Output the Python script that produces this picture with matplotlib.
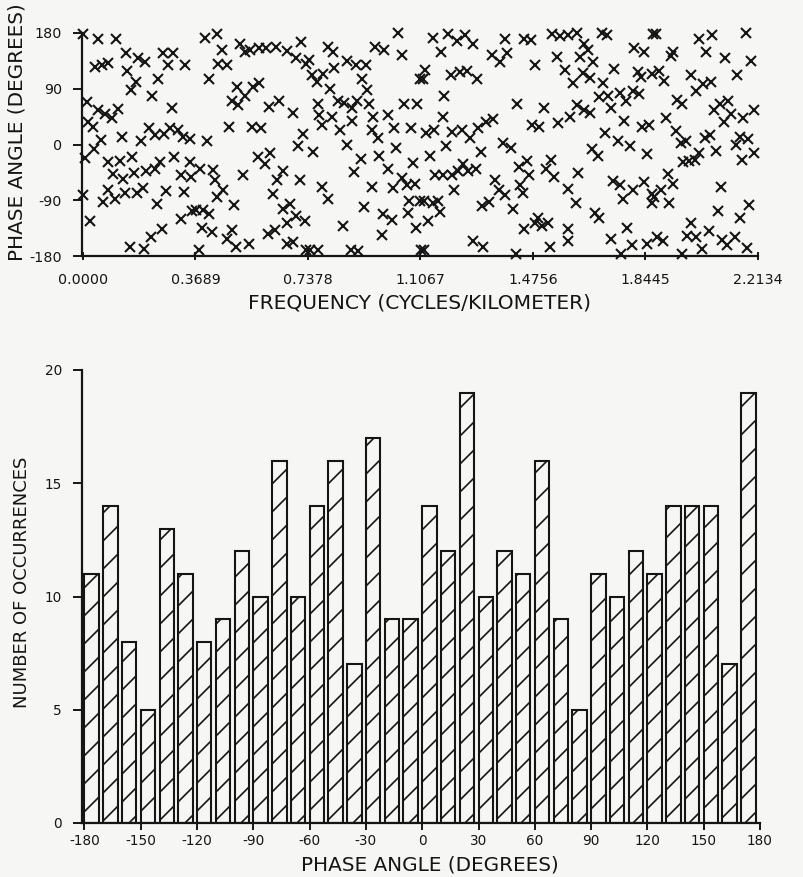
import numpy as np
import matplotlib.pyplot as plt

# phase spectrum: frequency (cycles/km) and phase angle (degrees)
freq = [
    0.000, 0.048, 0.110, 0.140, 0.180, 0.203, 0.262, 0.295, 0.279, 0.334,
    0.039, 0.061, 0.082, 0.143, 0.173, 0.157, 0.246, 0.225, 0.292, 0.012,
    0.049, 0.074, 0.095, 0.115, 0.016, 0.033, 0.059, 0.036, 0.007, 0.127,
    0.190, 0.216, 0.236, 0.266, 0.285, 0.311, 0.328, 0.351, 0.081, 0.121,
    0.161, 0.098, 0.131, 0.167, 0.206, 0.236, 0.252, 0.298, 0.351, 0.321,
    0.356, 0.082, 0.105, 0.138, 0.176, 0.197, 0.274, 0.331, 0.000, 0.066,
    0.242, 0.357, 0.023, 0.321, 0.259, 0.223, 0.154, 0.200,
    0.400, 0.439, 0.455, 0.443, 0.472, 0.413, 0.515, 0.531, 0.548, 0.577,
    0.600, 0.633, 0.669, 0.714, 0.698, 0.733, 0.504, 0.531, 0.557, 0.577,
    0.488, 0.508, 0.610, 0.643, 0.688, 0.479, 0.556, 0.583, 0.720, 0.705,
    0.406, 0.574, 0.597, 0.615, 0.525, 0.636, 0.656, 0.712, 0.384, 0.426,
    0.433, 0.459, 0.439, 0.622, 0.495, 0.371, 0.394, 0.413, 0.655, 0.679,
    0.668, 0.698, 0.728, 0.389, 0.422, 0.488, 0.471, 0.502, 0.544, 0.607,
    0.630, 0.668, 0.688, 0.380, 0.731,
    1.032, 0.803, 0.820, 0.957, 0.987, 1.046, 0.741, 0.750, 0.766, 0.787,
    0.823, 0.865, 0.897, 0.927, 0.915, 0.933, 0.810, 1.105, 0.770, 0.774,
    0.783, 0.816, 0.836, 0.856, 0.881, 0.900, 0.938, 0.882, 0.843, 0.951,
    0.947, 0.999, 1.020, 0.966, 1.053, 1.094, 1.076, 0.865, 0.754, 0.912,
    0.971, 1.025, 0.889, 1.000, 1.082, 1.045, 0.948, 1.017, 1.061, 1.089,
    0.784, 0.802, 0.921, 1.069, 1.105, 0.984, 1.013, 1.065, 0.853, 1.091,
    0.981, 0.744, 0.771, 0.879, 0.902, 1.108,
    1.147, 1.197, 1.226, 1.253, 1.278, 1.173, 1.384, 1.446, 1.468, 1.340,
    1.367, 1.390, 1.482, 1.121, 1.114, 1.206, 1.236, 1.259, 1.292, 1.184,
    1.422, 1.179, 1.125, 1.151, 1.209, 1.242, 1.269, 1.295, 1.321, 1.343,
    1.471, 1.190, 1.304, 1.376, 1.403, 1.138, 1.154, 1.179, 1.209, 1.231,
    1.246, 1.262, 1.289, 1.216, 1.351, 1.364, 1.384, 1.430, 1.456, 1.462,
    1.433, 1.442, 1.118, 1.147, 1.165, 1.171, 1.132, 1.307, 1.332, 1.411,
    1.446, 1.482, 1.278, 1.313, 1.118, 1.420,
    1.537, 1.564, 1.591, 1.619, 1.701, 1.717, 1.870, 1.644, 1.655, 1.553,
    1.630, 1.674, 1.808, 1.841, 1.742, 1.580, 1.608, 1.640, 1.662, 1.706,
    1.821, 1.830, 1.867, 1.692, 1.720, 1.761, 1.780, 1.804, 1.823, 1.733,
    1.512, 1.619, 1.597, 1.644, 1.662, 1.558, 1.495, 1.775, 1.832, 1.857,
    1.711, 1.753, 1.794, 1.668, 1.688, 1.851, 1.534, 1.517, 1.545, 1.622,
    1.589, 1.738, 1.761, 1.804, 1.841, 1.771, 1.865, 1.865, 1.616, 1.493,
    1.506, 1.526, 1.591, 1.679, 1.692, 1.784, 1.531, 1.589, 1.731, 1.764,
    1.801, 1.851,
    1.879, 2.021, 2.062, 2.174, 1.934, 1.927, 2.043, 2.105, 2.189, 1.889,
    1.905, 1.995, 2.033, 2.058, 2.010, 2.143, 1.947, 1.963, 2.069, 2.088,
    2.116, 2.124, 2.102, 2.164, 2.201, 1.912, 1.945, 1.960, 1.977, 2.039,
    2.056, 2.075, 2.141, 2.156, 2.181, 2.201, 2.160, 1.968, 1.987, 2.006,
    2.021, 1.919, 1.934, 1.894, 1.872, 1.922, 2.091, 2.083, 2.154, 2.185,
    1.995, 1.881, 1.903, 1.982, 2.010, 2.052, 2.097, 2.112, 2.138, 1.963,
    2.029, 2.176,
]
phase = [
    179, 170, 170, 148, 140, 133, 147, 147, 128, 128,
    125, 129, 131, 119, 101, 88, 105, 79, 59, 68,
    56, 50, 42, 58, 36, 28, 8, -7, -22, 12,
    5, 27, 15, 17, 27, 23, 12, 9, -29, -27,
    -20, -47, -56, -46, -43, -39, -29, -20, -29, -50,
    -52, -74, -88, -79, -79, -70, -75, -77, -81, -93,
    -96, -108, -124, -120, -136, -150, -165, -169,
    172, 179, 153, 130, 129, 106, 162, 149, 153, 155,
    155, 158, 151, 165, 139, 130, 93, 79, 93, 99,
    71, 63, 61, 70, 51, 28, 28, 27, 17, -2,
    6, -20, -31, -14, -49, -57, -43, -58, -39, -41,
    -57, -74, -85, -80, -97, -106, -106, -112, -104, -96,
    -126, -116, -123, -135, -142, -138, -152, -165, -160, -144,
    -138, -160, -158, -171, -170,
    180, 157, 149, 158, 152, 144, 137, 112, 101, 114,
    124, 135, 129, 129, 105, 88, 90, 105, 66, 47,
    32, 44, 71, 67, 59, 71, 66, 38, 23, 44,
    23, 47, 27, 11, 66, 66, 27, 0, -12, -23,
    -19, -5, -45, -39, -30, -54, -69, -70, -65, -64,
    -68, -88, -101, -92, -91, -113, -122, -111, -132, -134,
    -146, -170, -171, -170, -172, -170,
    172, 179, 167, 176, 162, 149, 171, 171, 168, 144,
    133, 147, 129, 121, 106, 113, 117, 119, 106, 78,
    65, 44, 18, 24, 20, 23, 11, 27, 36, 41,
    31, -3, -12, 2, -5, -19, -50, -50, -49, -43,
    -32, -43, -39, -74, -57, -74, -82, -36, -26, -50,
    -65, -79, -91, -95, -91, -109, -123, -99, -93, -104,
    -136, -126, -155, -165, -170, -176,
    179, 175, 176, 180, 180, 176, 178, 162, 152, 142,
    142, 133, 156, 149, 122, 120, 99, 115, 108, 99,
    117, 109, 114, 77, 79, 83, 71, 86, 81, 59,
    59, 63, 44, 56, 51, 34, 29, 38, 28, 31,
    18, 5, -3, -7, -18, -15, -25, -39, -52, -46,
    -72, -59, -66, -73, -61, -88, -80, -95, -95, -119,
    -131, -127, -136, -111, -119, -134, -165, -156, -153, -176,
    -163, -160,
    179, 171, 176, 180, 150, 143, 149, 140, 135, 119,
    103, 113, 97, 101, 87, 113, 72, 65, 55, 66,
    70, 49, 36, 43, 56, 42, 22, 2, 5, 11,
    16, -11, 0, 12, 9, -14, -25, -29, -26, -25,
    -14, -47, -63, -74, -85, -95, -68, -108, -119, -97,
    -127, -150, -156, -147, -150, -140, -154, -162, -149, -176,
    -169, -167,
]

# histogram of phase angles, 10 degree bins from -180
bin_start = np.arange(-180, 180, 10)
counts = [11, 14, 8, 5, 13, 11, 8, 9, 12, 10, 16, 10, 14, 16, 7, 17, 9, 9,
          14, 12, 19, 10, 12, 11, 16, 9, 5, 11, 10, 12, 11, 14, 14, 14, 7, 19]

freq_ticks = [0.0, 0.3689, 0.7378, 1.1067, 1.4756, 1.8445, 2.2134]
phase_ticks = [-180, -90, 0, 90, 180]
hist_xticks = np.arange(-180, 181, 30)
hist_yticks = [0, 5, 10, 15, 20]

# dpi 84 so that the single "/" hatch comes out with the spacing of the original
DPI = 84
k = 100.0 / DPI  # keep sizes as if drawn at 100 dpi

bg = "#f6f6f4"
ink = "#151515"
plt.rcParams["font.family"] = "DejaVu Sans"
plt.rcParams["axes.unicode_minus"] = False
plt.rcParams["hatch.linewidth"] = 1.2 * k
plt.rcParams["hatch.color"] = ink

fig = plt.figure(figsize=(803 / DPI, 877 / DPI), dpi=DPI, facecolor=bg)

# ---- top: phase vs frequency
ax1 = fig.add_axes([82 / 803, 1 - 256 / 877, 676 / 803, 223 / 877], facecolor=bg)
ax1.plot(freq, phase, linestyle="none", marker="x", color=ink,
         markersize=6.8 * k, markeredgewidth=1.5 * k, clip_on=False)
ax1.set_xlim(-0.003, 2.2134)
ax1.set_ylim(-180, 180)
ax1.set_xticks(freq_ticks)
ax1.set_xticklabels(["%.4f" % f for f in freq_ticks])
ax1.set_yticks(phase_ticks)
ax1.spines["top"].set_visible(False)
ax1.spines["right"].set_visible(False)
for s in ["left", "bottom"]:
    ax1.spines[s].set_linewidth(1.6 * k)
    ax1.spines[s].set_color(ink)
ax1.tick_params(axis="x", direction="inout", length=6 * k, width=1.4 * k,
                labelsize=10.3 * k, pad=9 * k, colors=ink)
ax1.tick_params(axis="y", direction="out", length=6.5 * k, width=1.4 * k,
                labelsize=10.3 * k, pad=8 * k, colors=ink)
ax1.set_xlabel("FREQUENCY (CYCLES/KILOMETER)", fontsize=14.6 * k, labelpad=5 * k, color=ink)
ax1.set_ylabel("PHASE ANGLE (DEGREES)", fontsize=14.4 * k, labelpad=2 * k, color=ink, y=0.555)

# ---- bottom: histogram of phase angles
ax2 = fig.add_axes([82 / 803, 1 - 823 / 877, 678 / 803, 453 / 877], facecolor=bg)
ax2.bar(bin_start, counts, width=7.7, align="edge", color="none",
        edgecolor=ink, linewidth=1.5 * k, hatch="/")
ax2.set_xlim(-181.3, 180)
ax2.set_ylim(0, 20)
ax2.set_xticks(hist_xticks)
ax2.set_yticks(hist_yticks)
ax2.spines["top"].set_visible(False)
ax2.spines["right"].set_visible(False)
for s in ["left", "bottom"]:
    ax2.spines[s].set_linewidth(1.6 * k)
    ax2.spines[s].set_color(ink)
ax2.tick_params(axis="x", direction="out", length=5 * k, width=1.4 * k,
                labelsize=9.8 * k, pad=3 * k, colors=ink)
ax2.tick_params(axis="y", direction="out", length=6.5 * k, width=1.4 * k,
                labelsize=9.8 * k, pad=8 * k, colors=ink)
ax2.set_xlabel("PHASE ANGLE (DEGREES)", fontsize=14.4 * k, labelpad=5 * k, color=ink, x=0.513)
ax2.set_ylabel("NUMBER OF OCCURRENCES", fontsize=13 * k, labelpad=10 * k, color=ink, y=0.532)

fig.savefig("out.png", dpi=DPI, facecolor=bg)
